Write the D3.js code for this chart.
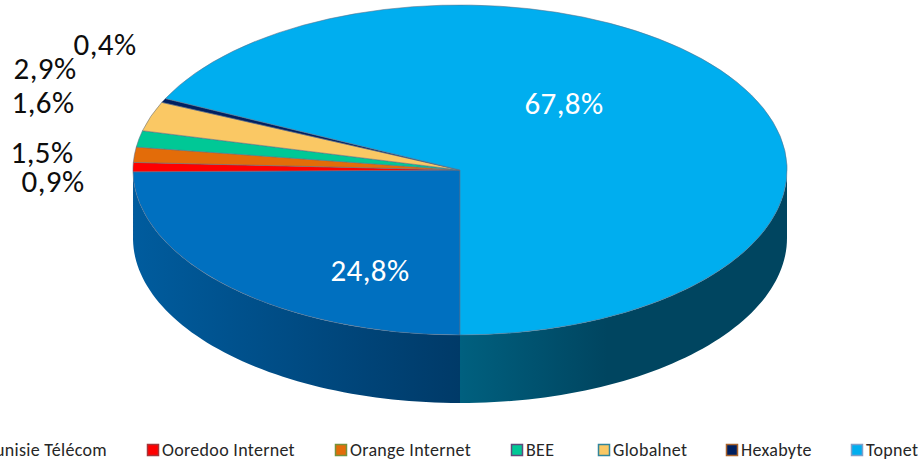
<!DOCTYPE html>
<meta charset="utf-8">
<style>
  html, body { margin: 0; padding: 0; background: #fff; overflow: hidden; }
  text { font-family: Carlito, Lato, "Open Sans", sans-serif; }
</style>

<!-- Load d3.js -->
<script src="https://d3js.org/d3.v7.min.js"></script>

<div id="my_dataviz"></div>

<script>

// chart values
var categories = ["Tunisie Télécom", "Ooredoo Internet", "Orange Internet", "BEE", "Globalnet", "Hexabyte", "Topnet"];
var shares = [24.8, 0.9, 1.5, 1.6, 2.9, 0.4, 67.8];
var labels = ["24,8%", "0,9%", "1,5%", "1,6%", "2,9%", "0,4%", "67,8%"];

// styles, one entry per category
var fills = ["#0070c0", "#ff0000", "#e36c09", "#00c896", "#fac864", "#002060", "#00aeef"];
var swatchBorders = ["#0a4f86", "#a5363a", "#76923c", "#604a7b", "#31859c", "#a8622a", "#7f9fc9"];
var wallLeft = ["#005c9e", "#c00000", "#aa5006", "#009670", "#bb9648", "#001848", "#00607f"];
var wallRight = ["#003a68", "#c00000", "#aa5006", "#009670", "#bb9648", "#001848", "#004560"];

// where the labels and legend sit (centre of each label, left of each swatch)
var labelX = [370, 53, 42, 43, 45, 105, 564];
var labelY = [270, 181, 152, 102, 68, 44, 103];
var legendX = [-28, 147, 335, 511, 598, 726, 851];

var width = 920, height = 460;
var cx = 460, cy = 170, rx = 327, ry = 165, depth = 68;

var svg = d3.select("#my_dataviz")
  .append("svg")
    .attr("width", width)
    .attr("height", height)
    .style("display", "block");

var defs = svg.append("defs");

// slices start at 6 o'clock and run clockwise
var pie = d3.pie().sort(null).startAngle(Math.PI).endAngle(3 * Math.PI);
var arcs = pie(shares);

// angle to screen position on the squashed circle
var px = d3.scaleLinear().domain([-1, 1]).range([cx - rx, cx + rx]);
var py = d3.scaleLinear().domain([-1, 1]).range([cy - ry, cy + ry]);

// Side walls: only the front half of the rim shows
var wall = d3.area()
  .x(function (a) { return px(Math.sin(a)); })
  .y0(function (a) { return py(-Math.cos(a)); })
  .y1(function (a) { return py(-Math.cos(a)) + depth; });

arcs.forEach(function (d, i) {
  var a0 = Math.max(d.startAngle, Math.PI / 2);
  var a1 = Math.min(d.endAngle, 3 * Math.PI / 2);
  // Topnet wraps past 12 o'clock, its visible wall is the next turn round
  if (d.endAngle > 2.5 * Math.PI) { a0 = 2.5 * Math.PI; a1 = d.endAngle; }
  if (a1 <= a0) return;

  var grad = defs.append("linearGradient")
    .attr("id", "wall" + i)
    .attr("gradientUnits", "userSpaceOnUse")
    .attr("x1", px(i == 6 ? 0 : -1)).attr("x2", px(i == 6 ? 0.45 : 0))
    .attr("y1", 0).attr("y2", 0);
  grad.append("stop").attr("offset", 0).attr("stop-color", wallLeft[i]);
  grad.append("stop").attr("offset", 1).attr("stop-color", wallRight[i]);

  svg.append("path")
    .attr("d", wall(d3.range(0, 61).map(function (k) { return a0 + (a1 - a0) * k / 60; })))
    .attr("fill", "url(#wall" + i + ")");
});

// Top face of the pie
var arc = d3.arc().innerRadius(0).outerRadius(1);
svg.append("g")
    .attr("transform", "translate(" + cx + "," + cy + ") scale(" + rx + "," + ry + ")")
  .selectAll("path")
  .data(arcs)
  .enter()
  .append("path")
    .attr("d", arc)
    .attr("fill", function (d, i) { return fills[i]; })
    .attr("stroke", "#5f6f86")
    .attr("stroke-opacity", 0.55)
    .attr("stroke-width", 1)
    .attr("vector-effect", "non-scaling-stroke");

// Add data labels
svg.append("g")
  .selectAll("text")
  .data(labels)
  .enter()
  .append("text")
    .attr("x", function (d, i) { return labelX[i]; })
    .attr("y", function (d, i) { return labelY[i]; })
    .attr("text-anchor", "middle")
    .attr("dominant-baseline", "central")
    .style("font-size", "31px")
    .style("letter-spacing", "0.4px")
    .style("fill", function (d, i) { return (i == 0 || i == 6) ? "#ffffff" : "#0d0d0d"; })
    .text(function (d) { return d; });

// Handmade legend
var legend = svg.append("g")
  .selectAll("g")
  .data(categories)
  .enter()
  .append("g")
    .attr("transform", function (d, i) { return "translate(" + legendX[i] + ",444)"; });

legend.append("rect")
    .attr("x", 0.5)
    .attr("y", 0.5)
    .attr("width", 11)
    .attr("height", 11)
    .attr("fill", function (d, i) { return fills[i]; })
    .attr("stroke", function (d, i) { return swatchBorders[i]; })
    .attr("stroke-width", 1.5);

legend.append("text")
    .attr("x", 15)
    .attr("y", 6)
    .attr("dominant-baseline", "central")
    .style("font-size", "18px")
    .style("letter-spacing", "0.3px")
    .style("fill", "#262626")
    .text(function (d) { return d; });

</script>
